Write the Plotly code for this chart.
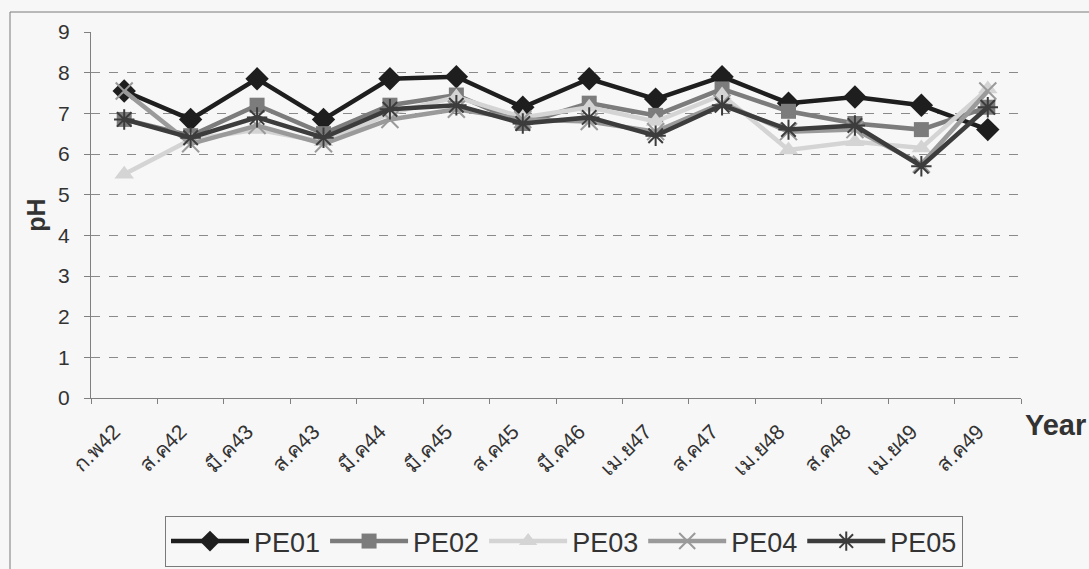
import plotly.graph_objects as go

# Sampling dates (Thai month abbreviation + Buddhist-era year)
periods = ["ก.พ42", "ส.ค42", "มี.ค43", "ส.ค43", "มี.ค44", "มี.ค45", "ส.ค45",
           "มี.ค46", "เม.ย47", "ส.ค47", "เม.ย48", "ส.ค48", "เม.ย49", "ส.ค49"]

# pH readings per monitoring station
pe01 = [7.55, 6.85, 7.85, 6.85, 7.85, 7.9, 7.15, 7.85, 7.35, 7.9, 7.25, 7.4, 7.2, 6.6]
pe02 = [6.85, 6.45, 7.2, 6.5, 7.2, 7.45, 6.75, 7.25, 6.95, 7.6, 7.05, 6.75, 6.6, 7.15]
pe03 = [5.5, 6.35, 6.6, 6.3, 7.0, 7.4, 6.9, 7.15, 6.8, 7.45, 6.1, 6.3, 6.15, 7.6]
pe04 = [7.55, 6.25, 6.7, 6.25, 6.85, 7.1, 6.85, 6.8, 6.55, 7.25, 6.55, 6.6, 5.75, 7.55]
pe05 = [6.85, 6.4, 6.9, 6.4, 7.1, 7.2, 6.75, 6.9, 6.45, 7.2, 6.6, 6.7, 5.7, 7.15]

series = [
    ("PE01", pe01, "#1e1e1e", "diamond", 18),
    ("PE02", pe02, "#7c7c7c", "square", 15),
    ("PE03", pe03, "#d4d4d4", "triangle-up", 17),
    ("PE04", pe04, "#9a9a9a", "x-thin", 17),
    ("PE05", pe05, "#3c3c3c", "asterisk", 17),
]

fig = go.Figure()
for name, vals, color, sym, size in series:
    thin = sym in ("x-thin", "asterisk")
    fig.add_trace(go.Scatter(
        x=periods, y=vals, name=name, mode="lines+markers",
        line=dict(color=color, width=4.5),
        marker=dict(symbol=sym, size=size, color=color,
                    line=dict(color=color, width=2 if thin else 0)),
    ))

W, H = 1089, 569
L, R, T, B = 91, 68, 32, 171
pw, ph = W - L - R, H - T - B

def px_x(p):
    return (p - L) / pw

def px_y(p):
    return (H - B - p) / ph

txt = "#333333"
fig.update_layout(
    width=W, height=H,
    margin=dict(l=L, r=R, t=T, b=B, autoexpand=False),
    paper_bgcolor="#f7f7f7", plot_bgcolor="#f7f7f7",
    font=dict(family="Liberation Sans, Arial, sans-serif", color=txt, size=18),
    showlegend=True,
    legend=dict(
        orientation="h", x=px_x(564), xanchor="center", y=px_y(516), yanchor="top",
        bordercolor="#7a7a7a", borderwidth=1, bgcolor="#f7f7f7",
        font=dict(size=27, color=txt), itemwidth=78,
    ),
    xaxis=dict(
        type="category", tickangle=-45, tickson="boundaries", automargin=False,
        showline=True, linecolor="#808080", linewidth=1,
        ticks="outside", ticklen=5, tickcolor="#808080",
        showgrid=False, tickfont=dict(size=21, color=txt),
        ticklabelstandoff=12, ticklabelshift=-10,
        range=[-0.5, len(periods) - 0.5],
    ),
    yaxis=dict(
        range=[0, 9], dtick=1, tick0=0, automargin=False,
        showline=True, linecolor="#808080", linewidth=1,
        ticks="outside", ticklen=6, tickcolor="#808080",
        showgrid=True, gridcolor="#8a8a8a", griddash="dash", gridwidth=1,
        zeroline=False, tickfont=dict(size=21, color=txt),
        ticklabelstandoff=10,
        title=dict(text="<b>pH</b>", font=dict(size=25, color=txt), standoff=5),
    ),
    annotations=[dict(
        text="<b>Year</b>", xref="paper", yref="paper",
        x=px_x(1023), y=px_y(425), xanchor="left", yanchor="middle",
        showarrow=False, font=dict(size=29, color=txt),
    )],
    shapes=[dict(
        type="rect", xref="paper", yref="paper",
        x0=px_x(10), x1=px_x(1100), y0=px_y(580), y1=px_y(12),
        line=dict(color="#7a7a7a", width=1), fillcolor="rgba(0,0,0,0)",
        layer="below",
    )],
)

fig.write_html("out.html")
